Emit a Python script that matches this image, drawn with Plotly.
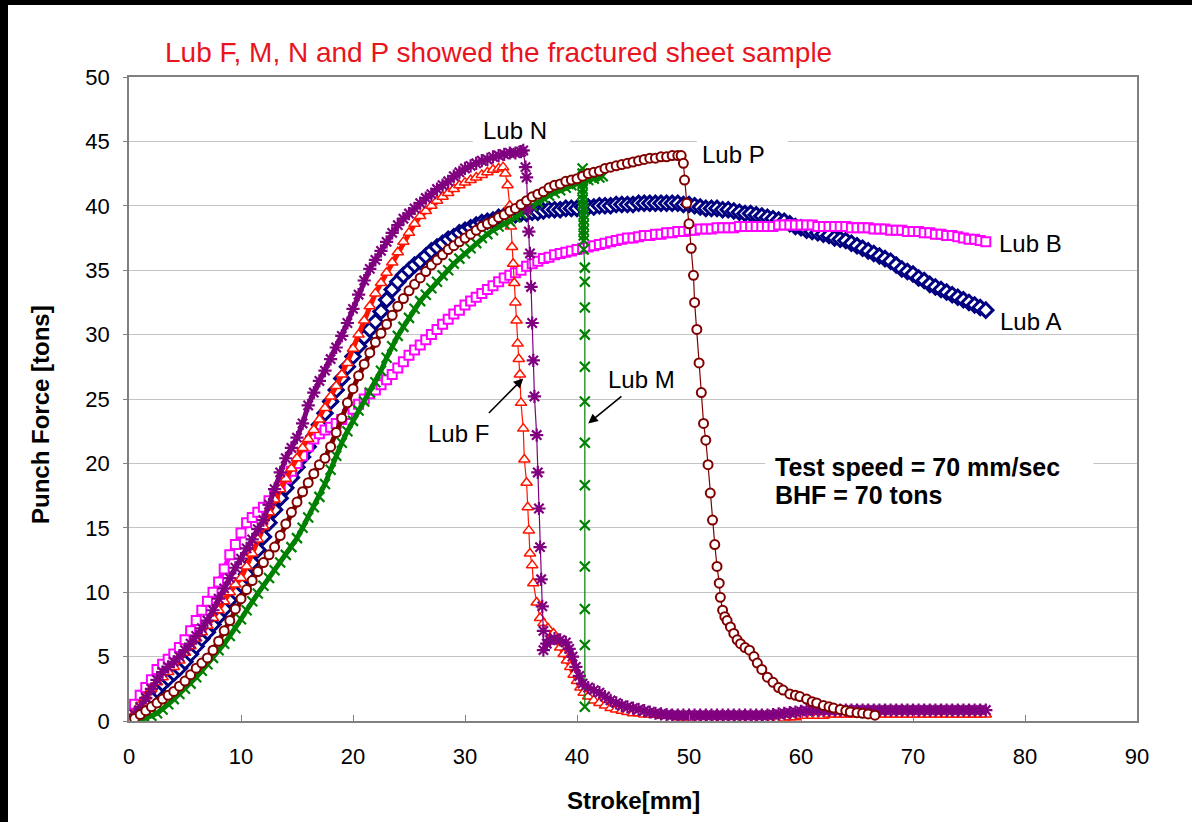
import plotly.graph_objects as go

# ---------------- data ----------------
STROKE_AB = [0, 0.5, 1, 1.5, 2, 2.5, 3, 3.5, 4, 4.5, 5, 5.5, 6, 6.5, 7, 7.5, 8, 8.5, 9, 9.5,
             10, 10.5, 11, 11.5, 12, 12.5, 13, 13.5, 14, 14.5, 15, 15.5, 16, 16.5, 17, 17.5, 18, 18.5, 19, 19.5,
             20, 20.5, 21, 21.5, 22, 22.5, 23, 23.5, 24, 24.5, 25, 25.5, 26, 26.5, 27, 27.5, 28, 28.5, 29, 29.5,
             30, 30.5, 31, 31.5, 32, 32.5, 33, 33.5, 34, 34.5, 35, 35.5, 36, 36.5, 37, 37.5, 38, 38.5, 39, 39.5,
             40, 40.5, 41, 41.5, 42, 42.5, 43, 43.5, 44, 44.5, 45, 45.5, 46, 46.5, 47, 47.5, 48, 48.5, 49, 49.5,
             50, 50.5, 51, 51.5, 52, 52.5, 53, 53.5, 54, 54.5, 55, 55.5, 56, 56.5, 57, 57.5, 58, 58.5, 59, 59.5,
             60, 60.5, 61, 61.5, 62, 62.5, 63, 63.5, 64, 64.5, 65, 65.5, 66, 66.5, 67, 67.5, 68, 68.5, 69, 69.5,
             70, 70.5, 71, 71.5, 72, 72.5, 73, 73.5, 74, 74.5, 75, 75.5, 76, 76.5]

FORCE_A = [0, 0.4, 0.9, 1.4, 1.9, 2.4, 2.9, 3.3, 3.7, 4.1,
           4.6, 5.2, 5.8, 6.4, 6.9, 7.5, 8.1, 8.7, 9.4, 10.0,
           10.6, 11.4, 12.3, 13.3, 14.3, 15.4, 16.4, 17.3, 18.1, 18.9,
           19.7, 20.5, 21.3, 22.1, 23.0, 23.9, 24.8, 25.7, 26.6, 27.5,
           28.3, 29.1, 29.8, 30.4, 31.0, 31.8, 32.7, 33.5, 34.1, 34.6,
           35.0, 35.4, 35.7, 36.1, 36.5, 36.8, 37.1, 37.4, 37.6, 37.9,
           38.1, 38.3, 38.5, 38.7, 38.8, 38.9, 39.1, 39.2, 39.3, 39.3,
           39.4, 39.4, 39.5, 39.5, 39.6, 39.7, 39.7, 39.7, 39.8, 39.8,
           39.8, 39.9, 39.9, 39.9, 40.0, 40.0, 40.0, 40.1, 40.1, 40.1,
           40.1, 40.2, 40.2, 40.2, 40.2, 40.2, 40.2, 40.2, 40.2, 40.1,
           40.1, 40.0, 39.9, 39.8, 39.8, 39.8, 39.7, 39.7, 39.6, 39.5,
           39.4, 39.4, 39.3, 39.2, 39.1, 39.0, 38.9, 38.8, 38.6, 38.4,
           38.3, 38.1, 38.0, 37.9, 37.8, 37.7, 37.5, 37.4, 37.3, 37.1,
           36.9, 36.7, 36.5, 36.3, 36.1, 35.9, 35.7, 35.4, 35.1, 34.9,
           34.7, 34.4, 34.2, 33.9, 33.7, 33.5, 33.3, 33.1, 32.9, 32.7,
           32.5, 32.3, 32.1, 31.9]

FORCE_B = [0.5, 1.3, 2.0, 2.6, 3.2, 4.0, 4.4, 4.8, 5.2, 5.7,
           6.3, 7.0, 7.8, 8.6, 9.3, 10.0, 10.8, 11.8, 12.9, 13.7,
           14.6, 15.4, 15.8, 16.2, 16.6, 17.1, 17.6, 18.2, 18.8, 19.4,
           20.0, 20.6, 21.3, 21.9, 22.3, 22.6, 22.8, 23.1, 23.4, 23.8,
           24.2, 24.6, 25.0, 25.4, 25.7, 26.1, 26.5, 26.9, 27.4, 27.9,
           28.4, 28.8, 29.2, 29.6, 30.0, 30.4, 30.8, 31.2, 31.6, 31.9,
           32.3, 32.6, 32.9, 33.2, 33.5, 33.8, 34.1, 34.4, 34.6, 34.8,
           35.0, 35.3, 35.5, 35.7, 35.9, 36.0, 36.2, 36.3, 36.4, 36.5,
           36.6, 36.7, 36.8, 36.9, 37.0, 37.1, 37.2, 37.3, 37.4, 37.5,
           37.5, 37.6, 37.7, 37.7, 37.8, 37.8, 37.9, 37.9, 38.0, 38.0,
           38.1, 38.1, 38.2, 38.2, 38.2, 38.3, 38.3, 38.3, 38.3, 38.4,
           38.4, 38.4, 38.4, 38.4, 38.4, 38.4, 38.5, 38.5, 38.5, 38.5,
           38.5, 38.5, 38.5, 38.4, 38.4, 38.4, 38.4, 38.4, 38.4, 38.3,
           38.3, 38.3, 38.3, 38.2, 38.2, 38.2, 38.1, 38.1, 38.1, 38.0,
           38.0, 38.0, 37.9, 37.9, 37.8, 37.8, 37.7, 37.7, 37.6, 37.5,
           37.4, 37.4, 37.3, 37.2]

STROKE_F = [0, 0.5, 1, 1.5, 2, 2.5, 3, 3.5, 4, 4.5, 5, 5.5, 6, 6.5, 7, 7.5, 8, 8.5, 9, 9.5,
            10, 10.5, 11, 11.5, 12, 12.5, 13, 13.5, 14, 14.5, 15, 15.5, 16, 16.5, 17, 17.5, 18, 18.5, 19, 19.5,
            20, 20.5, 21, 21.5, 22, 22.5, 23, 23.5, 24, 24.5, 25, 25.5, 26, 26.5, 27, 27.5, 28, 28.5, 29, 29.5,
            30, 30.5, 31, 31.5, 32, 32.5, 33, 33.4,
            33.6, 33.8, 34.0, 34.1, 34.2, 34.3, 34.4, 34.5, 34.6, 34.7, 34.8, 34.9, 35.0, 35.2, 35.3, 35.5,
            35.6, 35.7, 35.8, 36.0, 36.1, 36.4, 36.7, 37.0,
            37.4, 37.9, 38.2, 38.5, 38.8, 39.1, 39.4, 39.7, 40.0, 40.3, 40.6,
            41, 41.5, 42, 42.5, 43, 43.5, 44, 44.5, 45, 45.5, 46, 46.5, 47, 47.5, 48, 48.5, 49, 49.5,
            50, 50.5, 51, 51.5, 52, 52.5, 53, 53.5, 54, 54.5, 55, 55.5, 56, 56.5, 57, 57.5, 58, 58.5, 59, 59.5,
            60, 60.5, 61, 61.5, 62, 62.5, 63, 63.5, 64, 64.5, 65, 65.5, 66, 66.5, 67, 67.5, 68, 68.5, 69, 69.5,
            70, 70.5, 71, 71.5, 72, 72.5, 73, 73.5, 74, 74.5, 75, 75.5, 76, 76.5]
FORCE_F = [0, 0.6, 1.3, 1.9, 2.5, 3.0, 3.4, 3.8, 4.2, 4.7,
           5.3, 5.8, 6.4, 6.9, 7.4, 8.0, 8.6, 9.3, 10.0, 10.6,
           11.1, 12.0, 13.0, 14.1, 15.1, 16.2, 17.2, 18.0, 18.8, 19.6,
           20.4, 21.2, 21.9, 22.6, 23.4, 24.3, 25.2, 26.0, 26.9, 27.8,
           28.9, 30.0, 31.1, 32.2, 33.2, 34.0, 34.8, 35.6, 36.4, 37.2,
           37.9, 38.6, 39.2, 39.6, 40.0, 40.4, 40.7, 41.0, 41.3, 41.6,
           41.8, 42.0, 42.2, 42.4, 42.6, 42.8, 42.9, 43.0,
           42.5, 41.6, 40.0, 38.4, 36.8, 35.5, 34.0, 32.5, 31.1, 29.3, 28.1, 26.9, 24.7, 22.7, 20.3, 18.5,
           16.6, 14.8, 13.0, 12.1, 10.7, 9.2, 8.0, 7.6,
           7.2, 6.8, 6.3, 5.7, 5.2, 4.7, 4.2, 3.6, 3.1, 2.6, 2.2,
           1.9, 1.6, 1.4, 1.2, 1.0, 0.9, 0.8, 0.7, 0.6, 0.6, 0.5, 0.5, 0.5, 0.4, 0.4, 0.4, 0.3, 0.3,
           0.3, 0.2, 0.15, 0.1, 0.1, 0.1, 0.1, 0.1, 0.1, 0.1, 0.1, 0.1, 0.1, 0.1, 0.1, 0.1, 0.1, 0.2, 0.3, 0.3,
           0.4, 0.4, 0.4, 0.4, 0.4, 0.5, 0.5, 0.5, 0.5, 0.5, 0.5, 0.5, 0.5, 0.5, 0.5, 0.5, 0.5, 0.5, 0.5, 0.5,
           0.5, 0.5, 0.5, 0.5, 0.5, 0.5, 0.5, 0.5, 0.5, 0.5, 0.5, 0.5, 0.5, 0.5]

STROKE_M = [0, 0.5, 1, 1.5, 2, 2.5, 3, 3.5, 4, 4.5, 5, 5.5, 6, 6.5, 7, 7.5, 8, 8.5, 9, 9.5,
            10, 10.5, 11, 11.5, 12, 12.5, 13, 13.5, 14, 14.5, 15, 15.5, 16, 16.5, 17, 17.5, 18, 18.5, 19, 19.5,
            20, 20.5, 21, 21.5, 22, 22.5, 23, 23.5, 24, 24.5, 25, 25.5, 26, 26.5, 27, 27.5, 28, 28.5, 29, 29.5,
            30, 30.5, 31, 31.5, 32, 32.5, 33, 33.5, 34, 34.5, 35, 35.5, 36, 36.5, 37, 37.5, 38, 38.5, 39, 39.5,
            40, 40.5, 41, 41.5, 42, 42.3,
            40.5, 40.5, 40.5, 40.5, 40.5, 40.5, 40.5, 40.5, 40.6, 40.6, 40.6, 40.6, 40.6, 40.6, 40.6, 40.6,
            40.7, 40.7, 40.7, 40.7, 40.7, 40.7, 40.7, 40.7, 40.7, 40.7, 40.7, 40.7, 40.7]
FORCE_M = [0, 0.0, 0.1, 0.2, 0.4, 0.6, 0.9, 1.3, 1.7, 2.1,
           2.5, 2.9, 3.4, 3.9, 4.4, 4.9, 5.5, 6.0, 6.6, 7.2,
           7.9, 8.6, 9.3, 9.9, 10.5, 11.1, 11.7, 12.3, 12.9, 13.5,
           14.2, 15.0, 15.8, 16.6, 17.4, 18.4, 19.5, 20.6, 21.6, 22.5,
           23.3, 24.1, 24.8, 25.5, 26.3, 27.2, 28.2, 29.1, 29.9, 30.6,
           31.3, 32.0, 32.6, 33.1, 33.6, 34.1, 34.6, 35.0, 35.5, 35.9,
           36.3, 36.7, 37.1, 37.5, 37.8, 38.1, 38.4, 38.6, 38.8, 39.1,
           39.4, 39.7, 40.0, 40.3, 40.6, 40.8, 41.0, 41.2, 41.4, 41.6,
           41.7, 41.9, 42.0, 42.1, 42.2, 42.3,
           42.9, 42.5, 42.1, 41.7, 41.3, 40.9, 40.5, 40.1, 39.7, 39.3, 38.9, 38.5, 38.1, 37.7, 37.3, 36.6,
           35.2, 34.1, 32.1, 30.0, 27.5, 24.8, 21.6, 18.3, 15.2, 12.0, 8.7, 5.9, 1.1]

STROKE_N = [0, 0.5, 1, 1.5, 2, 2.5, 3, 3.5, 4, 4.5, 5, 5.5, 6, 6.5, 7, 7.5, 8, 8.5, 9, 9.5,
            10, 10.5, 11, 11.5, 12, 12.5, 13, 13.5, 14, 14.5, 15, 15.5, 16, 16.5, 17, 17.5, 18, 18.5, 19, 19.5,
            20, 20.5, 21, 21.5, 22, 22.5, 23, 23.5, 24, 24.5, 25, 25.5, 26, 26.5, 27, 27.5, 28, 28.5, 29, 29.5,
            30, 30.5, 31, 31.5, 32, 32.5, 33, 33.5, 34, 34.5, 35, 35.2,
            35.4, 35.5, 35.6, 35.7, 35.8, 35.9, 36.0, 36.1, 36.2, 36.4, 36.5, 36.6, 36.7, 36.8, 36.9, 37.0, 37.0,
            37.3, 37.6, 38.0, 38.5, 39.0, 39.3, 39.6, 39.9, 40.2, 40.5,
            41, 41.5, 42, 42.5, 43, 43.5, 44, 44.5, 45, 45.5, 46, 46.5, 47, 47.5, 48, 48.5, 49, 49.5,
            50, 50.5, 51, 51.5, 52, 52.5, 53, 53.5, 54, 54.5, 55, 55.5, 56, 56.5, 57, 57.5, 58, 58.5, 59, 59.5,
            60, 60.5, 61, 61.5, 62, 62.5, 63, 63.5, 64, 64.5, 65, 65.5, 66, 66.5, 67, 67.5, 68, 68.5, 69, 69.5,
            70, 70.5, 71, 71.5, 72, 72.5, 73, 73.5, 74, 74.5, 75, 75.5, 76, 76.5]
FORCE_N = [0, 0.5, 1.1, 1.8, 2.5, 3.2, 3.8, 4.2, 4.6, 5.0,
           5.5, 6.0, 6.6, 7.2, 7.8, 8.6, 9.5, 10.3, 11.1, 11.9,
           12.6, 13.4, 14.1, 14.9, 15.6, 16.8, 18.0, 19.3, 20.4, 21.2,
           22.0, 23.1, 24.5, 25.5, 26.4, 27.2, 28.1, 29.0, 29.9, 30.9,
           32.0, 33.1, 34.2, 35.1, 35.8, 36.5, 37.2, 37.9, 38.5, 39.0,
           39.4, 39.8, 40.2, 40.6, 40.9, 41.3, 41.6, 41.9, 42.3, 42.6,
           42.9, 43.1, 43.3, 43.5, 43.6, 43.8, 43.9, 44.0, 44.1, 44.1, 44.2, 44.3,
           43.0, 42.2, 39.7, 38.0, 36.3, 33.7, 30.9, 28.0, 25.2, 22.2, 19.3, 16.5, 13.5, 11.0, 8.9, 7.0, 5.5,
           6.0, 6.3, 6.4, 6.3, 6.1, 5.6, 5.0, 4.2, 3.5, 2.9,
           2.6, 2.4, 2.2, 1.9, 1.6, 1.4, 1.2, 1.1, 1.0, 0.9, 0.8, 0.7, 0.6, 0.55, 0.5, 0.45, 0.45, 0.45,
           0.45, 0.45, 0.45, 0.45, 0.45, 0.45, 0.45, 0.45, 0.45, 0.45, 0.45, 0.45, 0.45, 0.45, 0.45, 0.5, 0.55, 0.6, 0.65, 0.7,
           0.75, 0.8, 0.85, 0.85, 0.85, 0.85, 0.85, 0.85, 0.85, 0.85, 0.85, 0.85, 0.85, 0.85, 0.85, 0.85, 0.85, 0.85, 0.85, 0.85,
           0.85, 0.85, 0.85, 0.85, 0.85, 0.85, 0.85, 0.85, 0.85, 0.85, 0.85, 0.85, 0.85, 0.85]

STROKE_P = [0, 0.5, 1, 1.5, 2, 2.5, 3, 3.5, 4, 4.5, 5, 5.5, 6, 6.5, 7, 7.5, 8, 8.5, 9, 9.5,
            10, 10.5, 11, 11.5, 12, 12.5, 13, 13.5, 14, 14.5, 15, 15.5, 16, 16.5, 17, 17.5, 18, 18.5, 19, 19.5,
            20, 20.5, 21, 21.5, 22, 22.5, 23, 23.5, 24, 24.5, 25, 25.5, 26, 26.5, 27, 27.5, 28, 28.5, 29, 29.5,
            30, 30.5, 31, 31.5, 32, 32.5, 33, 33.5, 34, 34.5, 35, 35.5, 36, 36.5, 37, 37.5, 38, 38.5, 39, 39.5,
            40, 40.5, 41, 41.5, 42, 42.5, 43, 43.5, 44, 44.5, 45, 45.5, 46, 46.5, 47, 47.5, 48, 48.5, 49, 49.3,
            49.5, 49.6, 49.8, 50.0, 50.2, 50.4, 50.5, 50.7, 50.9, 51.1, 51.3, 51.5, 51.7, 51.9, 52.1, 52.3,
            52.5, 52.7, 52.8, 53.0, 53.2, 53.4, 53.7, 54.0, 54.3, 54.6, 55.0, 55.4, 55.8, 56.1, 56.5, 57.0,
            57.5, 58.0, 58.4, 59.0, 59.5, 59.9, 60.5, 61.0, 61.4, 62.0, 62.5, 62.9, 63.5, 64.0, 64.4, 65.0,
            65.5, 66.0, 66.6]
FORCE_P = [0, 0.2, 0.5, 0.8, 1.1, 1.4, 1.7, 2.0, 2.3, 2.7,
           3.1, 3.6, 4.1, 4.5, 4.9, 5.5, 6.2, 7.0, 7.8, 8.7,
           9.5, 10.2, 10.9, 11.6, 12.3, 12.9, 13.5, 14.4, 15.3, 16.2,
           17.0, 17.8, 18.5, 19.2, 19.9, 20.4, 21.3, 22.4, 23.5, 24.7,
           25.8, 26.8, 27.7, 28.6, 29.4, 30.1, 30.8, 31.5, 32.2, 32.8,
           33.4, 33.9, 34.4, 34.9, 35.4, 35.8, 36.2, 36.6, 36.9, 37.2,
           37.5, 37.8, 38.1, 38.4, 38.6, 38.8, 39.1, 39.3, 39.6, 39.8,
           40.1, 40.4, 40.7, 40.9, 41.1, 41.4, 41.6, 41.7, 41.9, 42.0,
           42.1, 42.3, 42.5, 42.6, 42.7, 42.9, 43.0, 43.1, 43.2, 43.3,
           43.4, 43.5, 43.6, 43.7, 43.7, 43.8, 43.8, 43.9, 43.9, 43.9,
           43.3, 42.0, 40.2, 38.6, 36.7, 34.6, 32.5, 30.4, 27.8, 25.5, 23.1, 21.8, 19.9, 17.7, 15.6, 13.7,
           12.0, 10.7, 9.6, 8.6, 8.1, 7.8, 7.3, 6.8, 6.3, 6.0, 5.7, 5.5, 5.0, 4.5, 4.0, 3.4,
           3.0, 2.6, 2.4, 2.1, 2.0, 1.9, 1.7, 1.5, 1.4, 1.2, 1.1, 1.0, 0.9, 0.8, 0.7, 0.65,
           0.6, 0.55, 0.45]

X_TICKS = [0, 10, 20, 30, 40, 50, 60, 70, 80, 90]
Y_TICKS = [0, 5, 10, 15, 20, 25, 30, 35, 40, 45, 50]

TITLE = "Lub F, M, N and P showed the fractured sheet sample"
X_TITLE = "Stroke[mm]"
Y_TITLE = "Punch Force [tons]"

FONT = "Liberation Sans, Arial, sans-serif"

# ---------------- figure ----------------
fig = go.Figure()


def add_series(x, y, color, symbol, size, lw, fill, name, dense):
    # dense: list of (start, stop) index ranges where samples are packed tightly
    for a, b in dense:
        fig.add_trace(go.Scatter(
            x=x[a:b], y=y[a:b], mode="lines", showlegend=False,
            line=dict(color=color, width=5), hoverinfo="skip"))
    fig.add_trace(go.Scatter(
        x=x, y=y, mode="lines+markers", name=name, showlegend=False,
        line=dict(color=color, width=1.2),
        marker=dict(symbol=symbol, size=size, color=fill,
                    line=dict(color=color, width=lw)),
        hoverinfo="skip"))


add_series(STROKE_AB, FORCE_A, "#000080", "diamond", 11, 3.0, "white", "Lub A", [(0, 154)])
add_series(STROKE_AB, FORCE_B, "#FF00FF", "square", 9, 2.0, "white", "Lub B", [(0, 154)])
add_series(STROKE_F, FORCE_F, "#FF1400", "triangle-up", 10, 1.5, "white", "Lub F", [(0, 68), (92, 175)])
add_series(STROKE_M, FORCE_M, "#008000", "x-thin-open", 10, 2.2, "#008000", "Lub M", [(0, 86), (86, 101)])
add_series(STROKE_N, FORCE_N, "#800080", "asterisk-open", 11, 2.2, "#800080", "Lub N", [(0, 72), (88, 172)])
add_series(STROKE_P, FORCE_P, "#800000", "circle", 9, 2.0, "white", "Lub P", [(0, 100), (119, 151)])

W, H = 1192, 822
L, R, T, B = 129, 55, 77, 101
pw, ph = W - L - R, H - T - B


def px(xp):
    return (xp - L) / pw


def py(yp):
    return (H - B - yp) / ph


fig.update_layout(
    width=W, height=H,
    margin=dict(l=L, r=R, t=T, b=B, pad=0),
    paper_bgcolor="white", plot_bgcolor="white",
    font=dict(family=FONT, color="black", size=22),
    showlegend=False,
)

fig.update_xaxes(range=[0, 90], tickvals=X_TICKS, ticktext=[str(v) for v in X_TICKS],
                 showgrid=False, zeroline=False, showline=True, mirror=True,
                 linecolor="#808080", linewidth=1.5,
                 ticks="inside", ticklen=6, tickcolor="#808080", tickwidth=1,
                 tickfont=dict(size=22, family=FONT), ticklabelstandoff=15)
fig.update_yaxes(range=[0, 50], tickvals=Y_TICKS, ticktext=[str(v) for v in Y_TICKS],
                 showgrid=True, gridcolor="#c4c4c4", gridwidth=1, zeroline=False,
                 showline=True, mirror=True, linecolor="#808080", linewidth=1.5,
                 ticks="outside", ticklen=4, tickcolor="#808080", tickwidth=1,
                 tickfont=dict(size=22, family=FONT), ticklabelstandoff=9)

shapes = []
# white gaps in gridlines behind the labels
for x0, x1, y0, y1 in [(30.7, 39.4, 44.5, 45.5), (50.7, 58.8, 44.5, 45.5), (56.8, 86.1, 19.5, 20.5)]:
    shapes.append(dict(type="rect", xref="x", yref="y", x0=x0, x1=x1, y0=y0, y1=y1,
                       fillcolor="white", line=dict(width=0), layer="between"))
# black frame strips at top and left of the picture
shapes.append(dict(type="rect", xref="paper", yref="paper",
                   x0=px(-5), x1=px(W + 5), y0=py(5), y1=py(-5),
                   fillcolor="black", line=dict(width=0), layer="above"))
shapes.append(dict(type="rect", xref="paper", yref="paper",
                   x0=px(-5), x1=px(8), y0=py(H + 5), y1=py(-5),
                   fillcolor="black", line=dict(width=0), layer="above"))
fig.update_layout(shapes=shapes)

ann = []
ann.append(dict(text=TITLE, xref="paper", yref="paper", x=px(163), y=py(53),
                xanchor="left", yanchor="middle", showarrow=False,
                font=dict(size=28, color="#E8141E", family=FONT)))
ann.append(dict(text="<b>" + X_TITLE + "</b>", xref="paper", yref="paper", x=px(633), y=py(800),
                xanchor="center", yanchor="middle", showarrow=False,
                font=dict(size=24, family=FONT)))
ann.append(dict(text="<b>" + Y_TITLE + "</b>", xref="paper", yref="paper", x=px(40), y=py(415),
                xanchor="center", yanchor="middle", showarrow=False, textangle=-90,
                font=dict(size=24, family=FONT)))

labels = [("Lub N", 34.46, 45.85), ("Lub P", 54.0, 44.0), ("Lub B", 80.5, 37.1),
          ("Lub A", 80.5, 31.0), ("Lub M", 45.8, 26.5), ("Lub F", 29.4, 22.3)]
for t, x, y in labels:
    ann.append(dict(text=t, xref="x", yref="y", x=x, y=y, showarrow=False,
                    xanchor="center", yanchor="middle", font=dict(size=24, family=FONT)))

# arrows
for (hx, hy, tx, ty) in [(35.2, 26.6, 32.0, 23.8), (41.0, 23.1, 44.1, 25.3)]:
    ann.append(dict(text="", xref="x", yref="y", x=hx, y=hy, axref="x", ayref="y", ax=tx, ay=ty,
                    showarrow=True, arrowhead=2, arrowsize=1.2, arrowwidth=1.6, arrowcolor="black",
                    standoff=0, startstandoff=0))

ann.append(dict(text="<b>Test speed = 70 mm/sec</b>", xref="x", yref="y", x=57.5, y=19.72,
                xanchor="left", yanchor="middle", showarrow=False, font=dict(size=25, family=FONT)))
ann.append(dict(text="<b>BHF = 70 tons</b>", xref="x", yref="y", x=57.5, y=17.55,
                xanchor="left", yanchor="middle", showarrow=False, font=dict(size=25, family=FONT)))
fig.update_layout(annotations=ann)

fig.write_html("out.html")
